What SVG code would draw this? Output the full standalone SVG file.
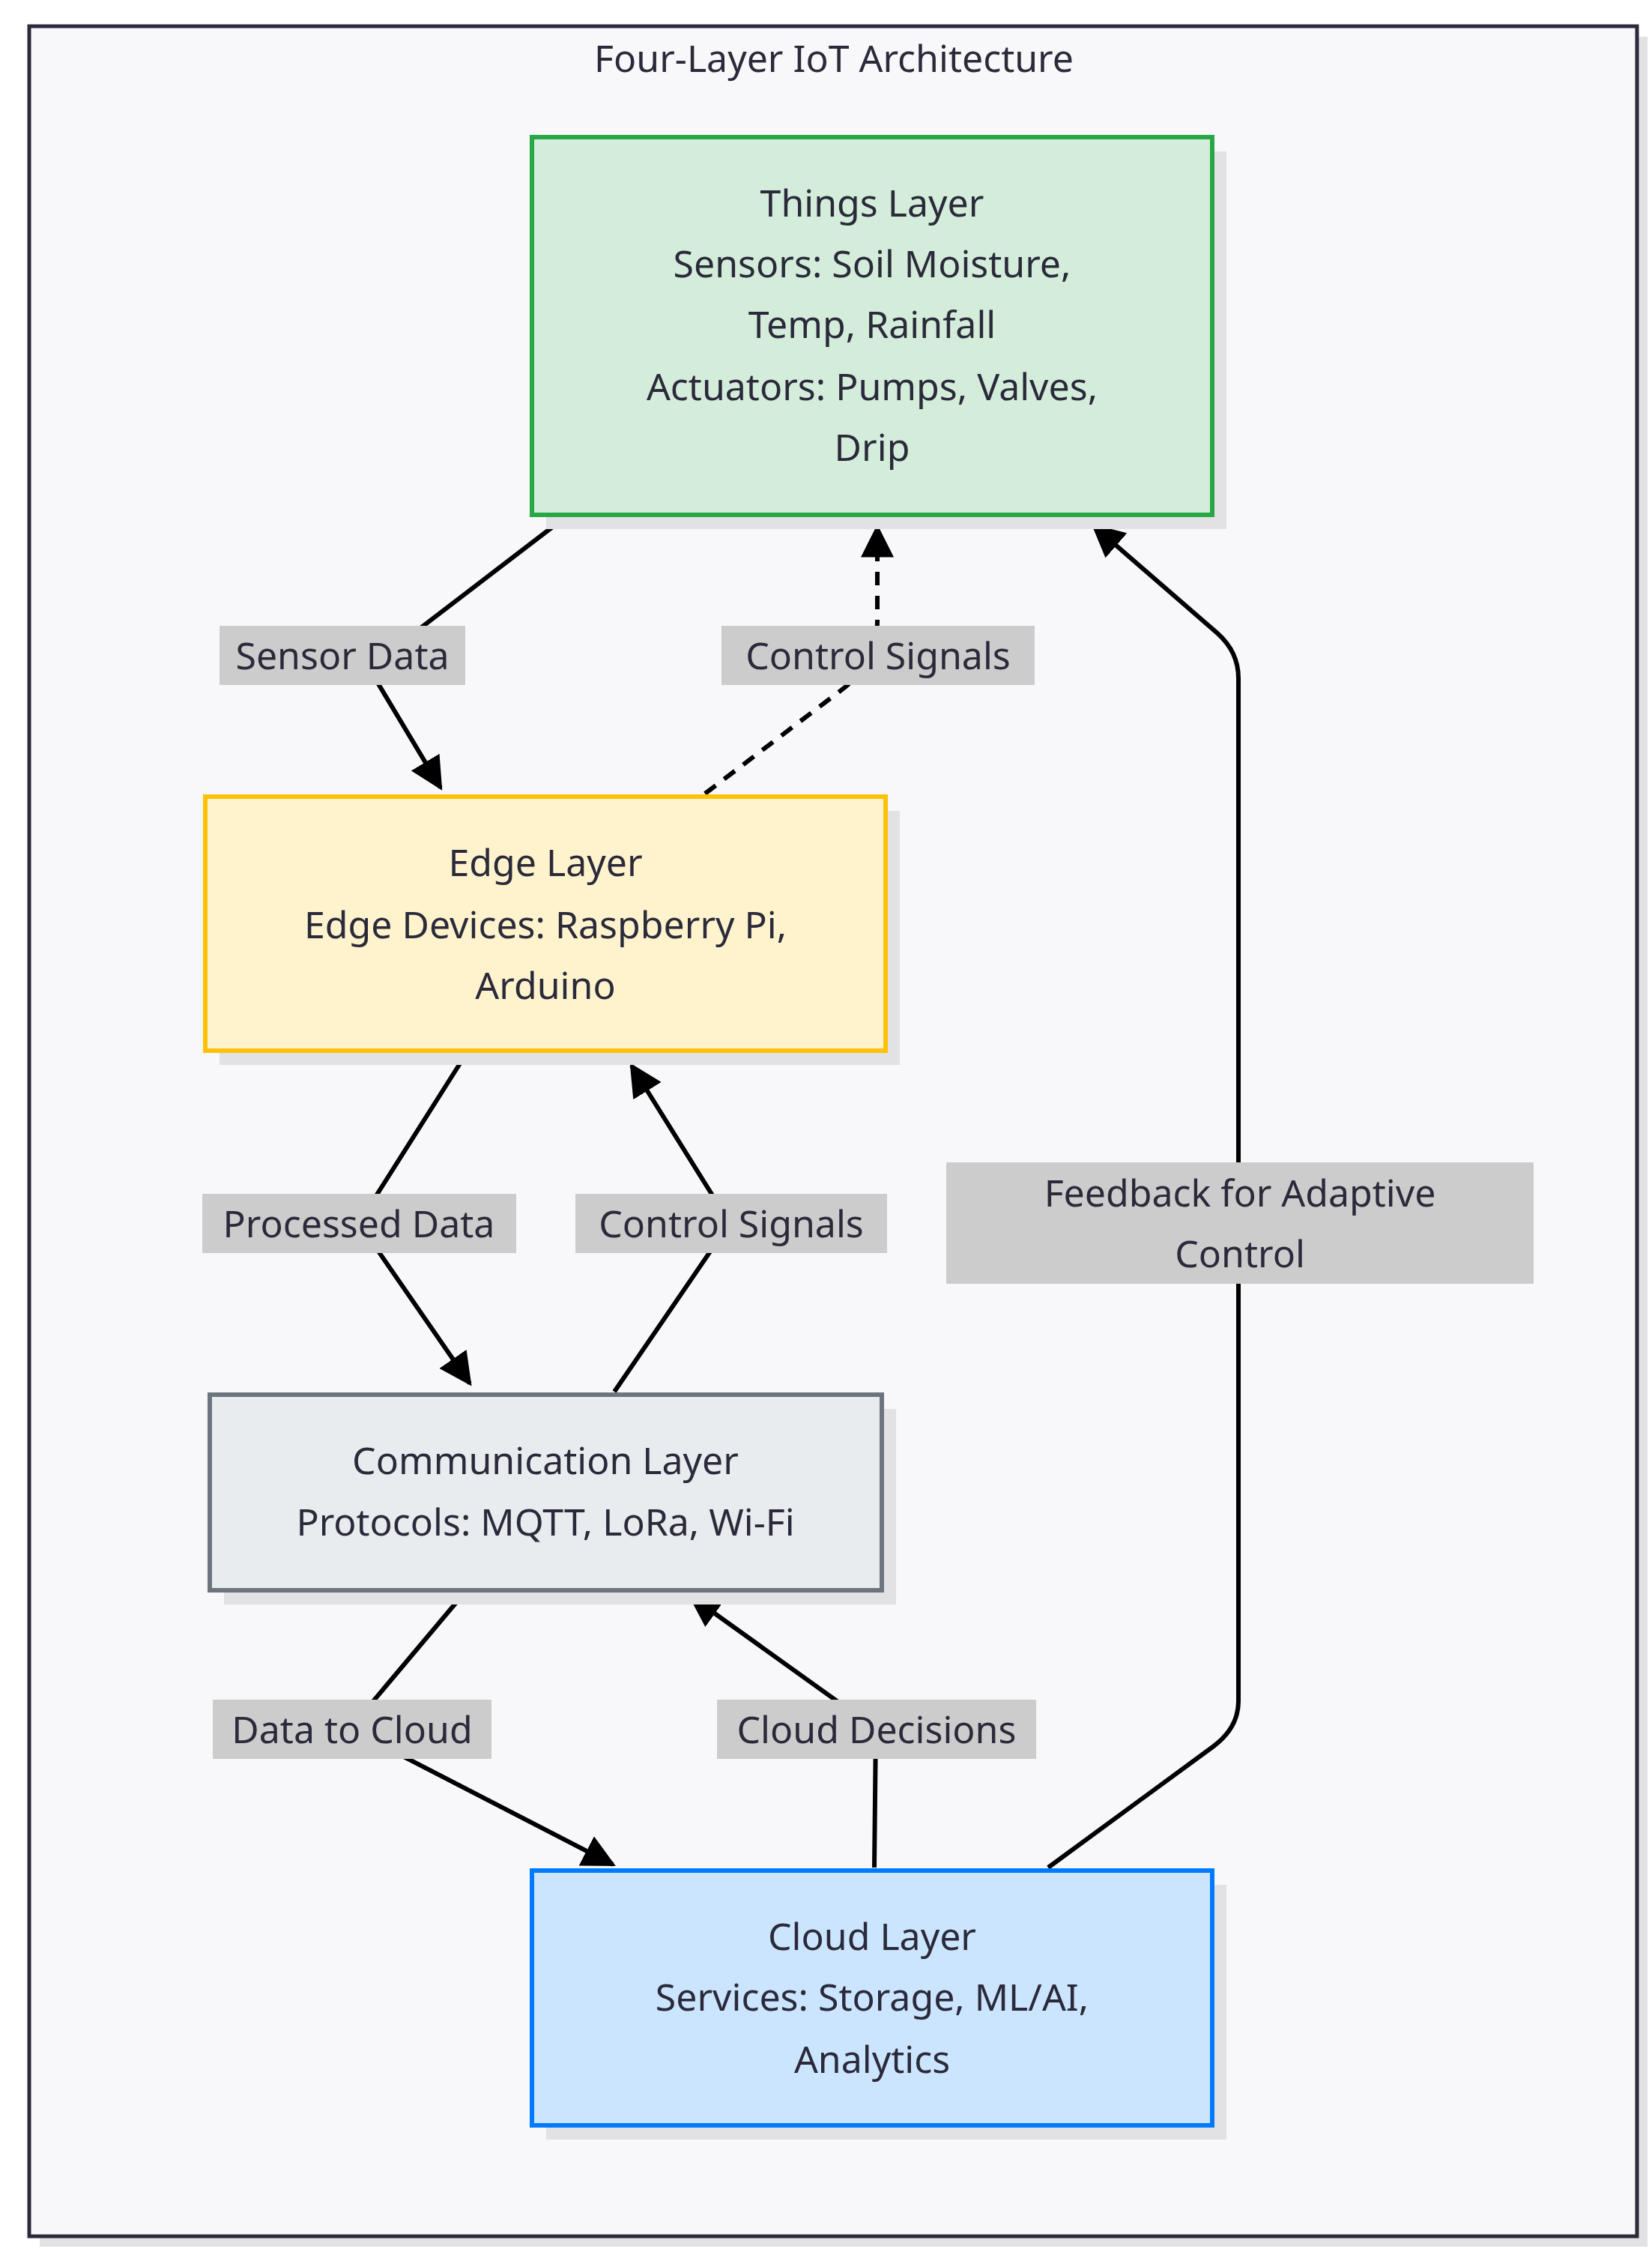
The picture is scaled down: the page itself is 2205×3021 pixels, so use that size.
<svg xmlns="http://www.w3.org/2000/svg" width="2205" height="3021" viewBox="0 0 2205 3021">
<style>
text{font-family:"Noto Sans","DejaVu Sans",sans-serif;font-size:50px;fill:#2a2a3a;text-anchor:middle;dominant-baseline:central}
.sh{fill:#e2e2e4}
.e{fill:none;stroke:#000;stroke-width:6}
.lb{fill:#cccccc}
</style>
<defs>
<marker id="a" markerUnits="userSpaceOnUse" markerWidth="44" markerHeight="44" viewBox="0 0 10 10" refX="9" refY="5" orient="auto"><path d="M0,0L10,5L0,10z" fill="#000"/></marker>
</defs>
<rect x="53" y="49" width="2146" height="2949" class="sh"/>
<rect x="39" y="35" width="2146" height="2949" fill="#f8f8fa" stroke="#2a2a3a" stroke-width="5"/>
<text x="1113" y="77">Four-Layer IoT Architecture</text>
<g id="connectors">
<path class="e" d="M756,689L492,891L588,1051" marker-end="url(#a)"/>
<path class="e" d="M941,1059L1128,917Q1171,880 1171,830L1171,704" stroke-dasharray="18,14" marker-end="url(#a)"/>
<path class="e" d="M621,1408L479,1632L627,1846" marker-end="url(#a)"/>
<path class="e" d="M820,1857L974,1632L843,1422" marker-end="url(#a)"/>
<path class="e" d="M621,2124L467,2307L818,2488" marker-end="url(#a)"/>
<path class="e" d="M1167,2492L1169,2307L922,2130" marker-end="url(#a)"/>
<path class="e" d="M1399,2492L1620,2330Q1653,2305 1653,2270L1653,905Q1653,870 1625,845L1460,702" marker-end="url(#a)"/>
<rect class="lb" x="293" y="835" width="328" height="79"/><text x="457" y="874">Sensor Data</text>
<rect class="lb" x="963" y="835" width="418" height="79"/><text x="1172" y="874">Control Signals</text>
<rect class="lb" x="270" y="1593" width="419" height="79"/><text x="479" y="1632">Processed Data</text>
<rect class="lb" x="768" y="1593" width="416" height="79"/><text x="976" y="1632">Control Signals</text>
<rect class="lb" x="284" y="2268" width="372" height="79"/><text x="470" y="2307">Data to Cloud</text>
<rect class="lb" x="957" y="2268" width="426" height="79"/><text x="1170" y="2307">Cloud Decisions</text>
<rect class="lb" x="1263" y="1551" width="784" height="162"/><text x="1655" y="1591">Feedback for Adaptive</text><text x="1655" y="1672">Control</text>
</g>
<g id="things">
<rect class="sh" x="729" y="202" width="908" height="504"/>
<rect x="710" y="183" width="908" height="504" fill="#d4edda" stroke="#28a745" stroke-width="6"/>
<text x="1164" y="270">Things Layer</text><text x="1164" y="351">Sensors: Soil Moisture,</text><text x="1164" y="432">Temp, Rainfall</text><text x="1164" y="515">Actuators: Pumps, Valves,</text><text x="1164" y="596">Drip</text>
</g>
<g id="edge">
<rect class="sh" x="293" y="1082" width="908" height="339"/>
<rect x="274" y="1063" width="908" height="339" fill="#fff3cd" stroke="#ffc107" stroke-width="6"/>
<text x="728" y="1150">Edge Layer</text><text x="728" y="1233">Edge Devices: Raspberry Pi,</text><text x="728" y="1314">Arduino</text>
</g>
<g id="comm">
<rect class="sh" x="299" y="1880" width="897" height="261"/>
<rect x="280" y="1861" width="897" height="261" fill="#e9ecef" stroke="#6c757d" stroke-width="6"/>
<text x="728" y="1948">Communication Layer</text><text x="728" y="2030">Protocols: MQTT, LoRa, Wi-Fi</text>
</g>
<g id="cloud">
<rect class="sh" x="729" y="2515" width="908" height="340"/>
<rect x="710" y="2496" width="908" height="340" fill="#cce5ff" stroke="#007bff" stroke-width="6"/>
<text x="1164" y="2583">Cloud Layer</text><text x="1164" y="2664">Services: Storage, ML/AI,</text><text x="1164" y="2747">Analytics</text>
</g>
</svg>
